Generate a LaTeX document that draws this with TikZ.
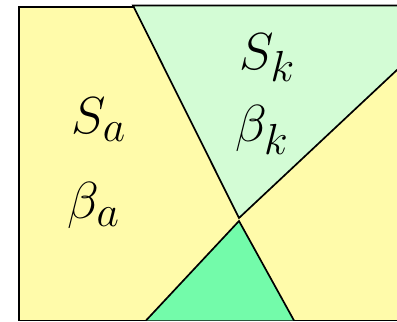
\documentclass[tikz,border=0pt]{standalone}
\usepackage{amsmath,amssymb}
\usepackage{graphicx}
\usepackage{tikz}
\usetikzlibrary{calc}
\usepackage{xcolor}
\definecolor{Butter} {RGB}{255,251,170}
\definecolor{MintL}  {RGB}{211,252,213}
\definecolor{MintD}  {RGB}{115,251,170}

\newcommand{\bigsym}[1]{\scalebox{1.49}{$#1$}}
\tikzset{
  region/.style={draw=black,line width=1.2pt,line join=miter},
  lbl/.style={font=\Huge,inner sep=0pt}
}

\begin{document}
\begin{tikzpicture}
        \useasboundingbox (0,0) rectangle (9.925,8.05);
        \clip (0,0) rectangle (9.925,8.05);
        \draw[region,fill=Butter] (0.475,0.0375) rectangle (10.5,7.875);
        \draw[region,fill=MintL] (3.325,7.9125) -- (10.5,7.9125) -- (10.5,6.84) -- (5.975,2.6) -- cycle;
        \fill[MintD] (3.65,0.0375) -- (5.975,2.525) -- (7.35,0.0375) -- cycle;
        \draw[region] (3.65,0.0375) -- (5.975,2.525) -- (7.35,0.0375);
        \node[lbl] (Sa) at (2.47,5.06) {\bigsym{S_a}};
        \node[lbl] (ba) at (2.35,2.91) {\bigsym{\beta_a}};
        \node[lbl] (Sk) at (6.68,6.6) {\bigsym{S_k}};
        \node[lbl] (bk) at (6.55,4.8) {\bigsym{\beta_k}};
      \end{tikzpicture}
\end{document}
